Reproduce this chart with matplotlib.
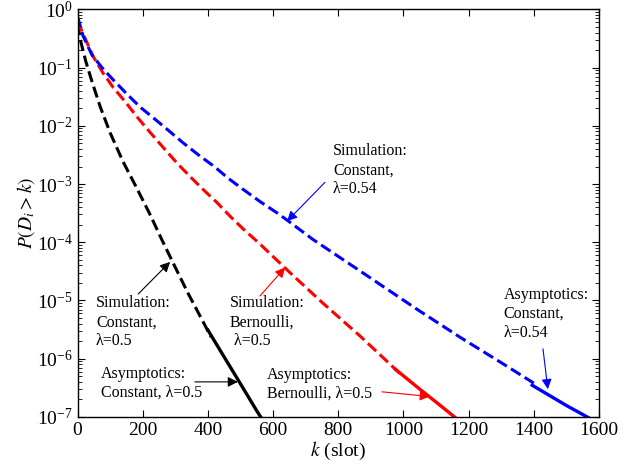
import numpy as np
import matplotlib
matplotlib.use("Agg")
import matplotlib.pyplot as plt
from matplotlib.ticker import LogLocator, FixedLocator, NullFormatter
from matplotlib.patches import FancyArrowPatch

plt.rcParams['font.family'] = ['Liberation Serif', 'DejaVu Serif']
plt.rcParams['mathtext.fontset'] = 'stix'

# ---- data ----
# Simulation, Constant arrivals, lambda=0.5 (black dashed)
k_sim_c05 = [0, 10, 25, 45, 70, 100, 140, 180, 220, 260, 300, 340, 380, 410]
p_sim_c05 = [5.6e-1, 2.8e-1, 1.3e-1, 5.6e-2, 2.1e-2, 7.6e-3, 2.4e-3, 8.9e-4,
             3.2e-4, 1.07e-4, 3.7e-5, 1.3e-5, 4.9e-6, 2.35e-6]
# Asymptotics, Constant, lambda=0.5 (black solid)
k_asy_c05 = [400, 450, 500, 550, 570]
p_asy_c05 = [3.1e-6, 1.07e-6, 3.7e-7, 1.27e-7, 8.5e-8]

# Simulation, Bernoulli, lambda=0.5 (red dashed)
k_sim_b05 = [0, 20, 48, 78, 109, 146, 186, 222, 262, 305, 345, 385, 428, 468,
             508, 560, 652, 750, 867, 937, 990]
p_sim_b05 = [6.3e-1, 3.5e-1, 1.55e-1, 8.1e-2, 4.6e-2, 2.6e-2, 1.35e-2, 7.8e-3,
             4.3e-3, 2.3e-3, 1.35e-3, 8.1e-4, 4.8e-4, 2.8e-4, 1.7e-4, 9.3e-5,
             3.0e-5, 9.3e-6, 2.45e-6, 1.05e-6, 5.5e-7]
# Asymptotics, Bernoulli, lambda=0.5 (red solid)
k_asy_b05 = [975, 1050, 1100, 1170]
p_asy_b05 = [6.6e-7, 3.0e-7, 1.8e-7, 8.7e-8]

# Simulation, Constant, lambda=0.54 (blue dashed)
k_sim_c054 = [0, 17, 44, 75, 109, 152, 192, 232, 275, 324, 370, 422, 462, 508,
              560, 612, 643, 722, 857, 943, 1041, 1173, 1318, 1400]
p_sim_c054 = [7.6e-1, 3.5e-1, 1.66e-1, 1.0e-1, 6.2e-2, 3.5e-2, 2.1e-2, 1.38e-2,
              8.7e-3, 5.1e-3, 3.2e-3, 1.95e-3, 1.26e-3, 8.1e-4, 5.0e-4, 3.2e-4,
              2.4e-4, 1.12e-4, 3.5e-5, 1.66e-5, 7.1e-6, 2.35e-6, 7.4e-7, 3.8e-7]
# Asymptotics, Constant, lambda=0.54 (blue solid)
k_asy_c054 = [1395, 1450, 1500, 1580]
p_asy_c054 = [3.5e-7, 2.3e-7, 1.57e-7, 8.9e-8]

x_ticks = [0, 200, 400, 600, 800, 1000, 1200, 1400, 1600]

# ---- figure ----
fig = plt.figure(figsize=(6.37, 4.69), dpi=100)
ax = fig.add_axes([0.1217, 0.111, 0.8187, 0.869])

ax.plot(k_sim_c05, p_sim_c05, color='k', ls='--', lw=2.2)
ax.plot(k_asy_c05, p_asy_c05, color='k', ls='-', lw=2.4)
ax.plot(k_sim_b05, p_sim_b05, color='r', ls='--', lw=2.2)
ax.plot(k_asy_b05, p_asy_b05, color='r', ls='-', lw=2.4)
ax.plot(k_sim_c054, p_sim_c054, color='b', ls='--', lw=2.2)
ax.plot(k_asy_c054, p_asy_c054, color='b', ls='-', lw=2.4)

ax.set_yscale('log')
ax.set_xlim(0, 1600)
ax.set_ylim(1e-7, 1e0)
ax.xaxis.set_major_locator(FixedLocator(x_ticks))
ax.yaxis.set_major_locator(LogLocator(base=10, numticks=10))
ax.yaxis.set_minor_locator(LogLocator(base=10, subs=np.arange(2, 10), numticks=20))
ax.yaxis.set_minor_formatter(NullFormatter())
ax.tick_params(which='both', direction='in', top=True, right=True, labelsize=14)
ax.tick_params(which='major', length=5, width=0.8)
ax.tick_params(which='minor', length=3, width=0.6)
for s in ax.spines.values():
    s.set_linewidth(1.0)

ax.set_xlabel('$k$ (slot)', fontsize=14, labelpad=1)
ax.set_ylabel('$P(D_i > k)$', fontsize=14, labelpad=0)

fs = 11.5
def note(text, xy, xytext, color, txy):
    arr = FancyArrowPatch(posA=xytext, posB=xy, arrowstyle='-|>', color=color,
                          lw=0.8, mutation_scale=15, shrinkA=0, shrinkB=0,
                          transform=ax.transData)
    ax.add_patch(arr)
    ax.text(txy[0], txy[1], text, fontsize=fs, ha='left', va='top',
            linespacing=1.25)

note('Simulation:\nConstant,\nλ=0.54', (643, 2.3e-4), (759, 1.07e-3), 'b', (784, 5.0e-3))
note('Simulation:\nConstant,\nλ=0.5', (284, 4.6e-5), (186, 1.29e-5), 'k', (57, 1.23e-5))
note('Simulation:\nBernoulli,\n λ=0.5', (637, 3.7e-5), (560, 1.2e-5), 'r', (468, 1.23e-5))
note('Asymptotics:\nConstant, λ=0.5', (492, 4.0e-7), (360, 4.0e-7), 'k', (72, 7.6e-7))
note('Asymptotics:\nBernoulli, λ=0.5', (1081, 2.24e-7), (934, 2.7e-7), 'r', (581, 7.2e-7))
note('Asymptotics:\nConstant,\nλ=0.54', (1443, 3.0e-7), (1428, 1.48e-6), 'b', (1308, 1.7e-5))

fig.savefig('out.png', dpi=100)
